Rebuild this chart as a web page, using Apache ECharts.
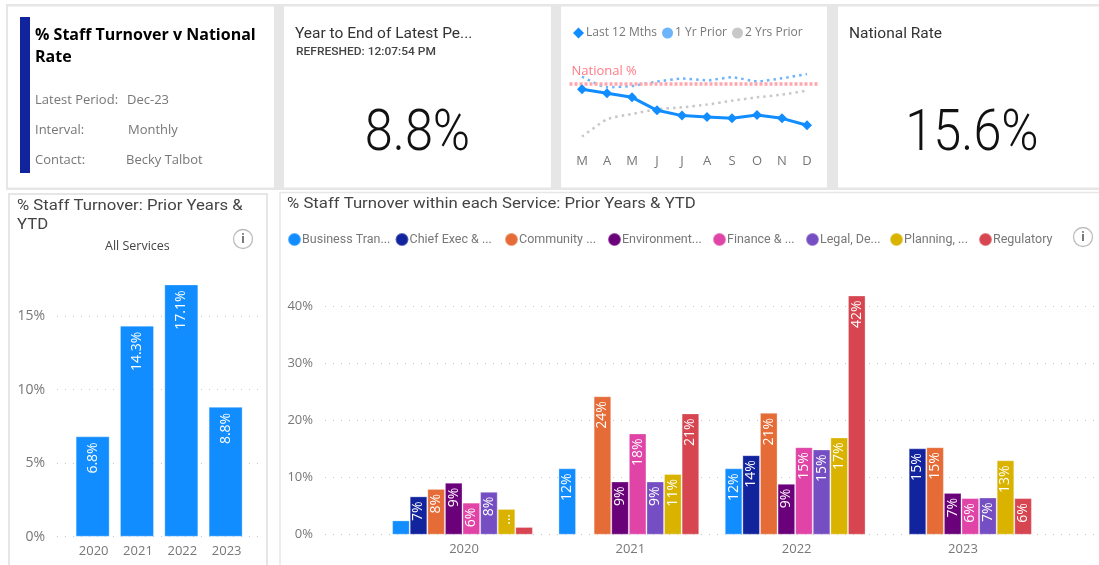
<!DOCTYPE html>
<html>
<head>
<meta charset="utf-8">
<style>html,body{margin:0;padding:0;background:#fff;overflow:hidden}#c{width:1099px;height:565px}</style>
<script src="https://cdn.jsdelivr.net/npm/echarts@6/dist/echarts.min.js"></script>
</head>
<body>
<div id="c"></div>
<script>
const years = ['2020','2021','2022','2023'];
const allServices = [6.8,14.3,17.1,8.8];
const serviceNames = ['Business Tran...','Chief Exec & ...','Community ...','Environment...','Finance & ...','Legal, De...','Planning, ...','Regulatory'];
const businessTran = [2.5,11.6,11.6,null];
const chiefExec = [6.7,null,13.9,15.1];
const community = [8.0,24.2,21.3,15.3];
const environment = [9.1,9.3,8.9,7.3];
const finance = [5.6,17.7,15.3,6.4];
const legal = [7.5,9.3,14.9,6.5];
const planning = [4.5,10.6,17.0,13.0];
const regulatory = [1.35,21.2,41.8,6.4];
const months = ['M','A','M','J','J','A','S','O','N','D'];
const last12 = [14.63,14.0,13.33,11.23,10.37,10.15,9.93,10.47,9.93,8.8];
const yr1Prior = [16.68,14.95,15.17,15.87,16.36,16.09,16.57,15.92,16.41,17.1];
const yr2Prior = [6.97,9.77,10.64,11.39,11.71,12.15,12.79,13.33,13.77,14.41];
const nationalRate = 15.6;
const ytdRate = 8.8;

const serviceValues = [businessTran,chiefExec,community,environment,finance,legal,planning,regulatory];
const serviceColors = ['#118DFF','#12239E','#E66C37','#6B007B','#E044A7','#744EC2','#D9B300','#D64550'];
const legendLeft = [287,394.5,504,607,712,805,889,978];
const UI = '"Open Sans","Noto Sans",sans-serif';
const DIN = 'Roboto,"Open Sans",sans-serif';
const GREY = '#777';
const dots = {type:[1,7],color:'#c8c8c8',width:1};

function rect(x,y,w,h,fill,stroke,lw){return {type:'rect',silent:true,shape:{x,y,width:w,height:h},style:{fill,stroke:stroke||null,lineWidth:lw||0}};}
function txt(text,x,y,font,fill,extra){return Object.assign({type:'text',silent:true,x,y,style:{text,font,fill,textVerticalAlign:'middle',textAlign:'left'}},extra||{});}
function kpi(text,cx){return {type:'text',silent:true,x:cx,y:135,scaleX:0.87,style:{text,font:'300 58px Roboto,sans-serif',fill:'#111',textAlign:'center',textVerticalAlign:'middle'}};}
function info(cx,cy){return [
  {type:'circle',silent:true,shape:{cx,cy,r:9.5},style:{fill:'#fff',stroke:'#bdbdbd',lineWidth:1.3}},
  txt('i',cx,cy,'bold 13px '+UI,'#777',{style:{text:'i',font:'bold 13px '+UI,fill:'#777',textAlign:'center',textVerticalAlign:'middle'}})
];}

const graphic = [
  rect(6,4,1093,186,'#e6e6e6'),
  rect(8,6.5,266,181,'#fff'),
  rect(284,6.5,267,181,'#fff'),
  rect(561,6.5,266,181,'#fff'),
  rect(838,6.5,261,181,'#fff'),
  rect(9,194,258,380,'#fff','#e6e6e6',2),
  rect(280,192.5,830,380,'#fff','#e6e6e6',1.5),
  rect(20,17,10,156,'#12239E'),
  txt('% Staff Turnover v National',35,35,'bold 16px '+UI,'#000'),
  txt('Rate',35,57,'bold 16px '+UI,'#000'),
  txt('Latest Period:',35,100,'13px '+UI,'#777'),
  txt('Dec-23',127,100,'13px '+UI,'#777'),
  txt('Interval:',35,130,'13px '+UI,'#777'),
  txt('Monthly',128,130,'13px '+UI,'#777'),
  txt('Contact:',35,160,'13px '+UI,'#777'),
  txt('Becky Talbot',126,160,'13px '+UI,'#777'),
  txt('Year to End of Latest Pe...',295,34,'15.5px '+DIN,'#333'),
  txt('REFRESHED: 12:07:54 PM',296,52,'500 10.5px '+DIN,'#444',{scaleX:1.14}),
  kpi(ytdRate.toFixed(1)+'%',417.5),
  txt('National Rate',849,34,'15.5px '+DIN,'#333'),
  kpi(nationalRate.toFixed(1)+'%',972),
  txt('% Staff Turnover: Prior Years &',17,206,'15px '+DIN,'#444',{scaleX:1.113}),
  txt('YTD',17,225,'15px '+DIN,'#444',{scaleX:1.113}),
  txt('All Services',105,246,'12.5px '+UI,'#444'),
  txt('% Staff Turnover within each Service: Prior Years & YTD',287,204,'15px '+DIN,'#444',{scaleX:1.115}),
  ...info(243,239),
  ...info(1083,237)
];

const hiddenX = i=>({gridIndex:i,type:'category',data:years,show:false});
const grids = [
  {left:57,width:205,top:272.1,height:264.6},
  {left:70.5,width:177.3,top:271.1,height:265.6},
  {left:325,width:770,top:278.2,height:256.5},
  {left:379.35,width:665.3,top:277.2,height:257.5},
  {left:569.5,width:250,top:56.1,height:92.7}
];
const xAxes = [
  hiddenX(0),
  {gridIndex:1,type:'category',data:years,axisLine:{show:false},axisTick:{show:false},axisLabel:{color:GREY,fontSize:13,fontFamily:UI,margin:8,padding:[0,0,0,2]}},
  hiddenX(2),
  {gridIndex:3,type:'category',data:years,axisLine:{show:false},axisTick:{show:false},axisLabel:{color:GREY,fontSize:13,fontFamily:UI,margin:8,padding:[0,0,0,3]}},
  {gridIndex:4,type:'category',data:months,axisLine:{show:false},axisTick:{show:false},axisLabel:{color:GREY,fontSize:13,fontFamily:UI,margin:6,interval:0}}
];
const pctLabel = (size)=>({color:GREY,fontSize:size,fontFamily:UI,margin:12,padding:[3,0,0,0],formatter:'{value}%',showMaxLabel:false});
const yAxes = [
  {gridIndex:0,type:'value',min:0,max:18,interval:5,axisLabel:pctLabel(14),axisLine:{show:false},axisTick:{show:false},splitLine:{show:true,showMaxLine:false,lineStyle:dots}},
  {gridIndex:1,type:'value',min:0,max:18,interval:5,show:false,splitLine:{show:false}},
  {gridIndex:2,type:'value',min:0,max:45,interval:10,axisLabel:pctLabel(13),axisLine:{show:false},axisTick:{show:false},splitLine:{show:true,showMaxLine:false,lineStyle:dots}},
  {gridIndex:3,type:'value',min:0,max:45,interval:10,show:false,splitLine:{show:false}},
  {gridIndex:4,type:'value',min:5,max:20,show:false,splitLine:{show:false}}
];
const barLabel = {show:true,position:'insideTop',rotate:90,align:'right',verticalAlign:'middle',distance:6,color:'#fff',fontFamily:UI,fontSize:14};
const edge = {borderColor:'rgba(255,255,255,0.3)',borderWidth:1};

const series = [
  {name:'All Services',type:'bar',xAxisIndex:1,yAxisIndex:1,data:allServices,barWidth:34,
   itemStyle:Object.assign({color:'#118DFF'},edge),
   label:Object.assign({},barLabel,{formatter:p=>p.value.toFixed(1)+'%'})},
  ...serviceNames.map((name,i)=>({
    name,type:'bar',xAxisIndex:3,yAxisIndex:3,data:serviceValues[i],barWidth:17.6,barGap:0,
    itemStyle:Object.assign({color:serviceColors[i]},edge),
    label:Object.assign({},barLabel,{distance:5,formatter:p=>{
      const v=p.value; if(v==null||v<3) return ''; if(v<5) return '…'; return Math.round(v)+'%';
    }})
  })),
  {name:'2 Yrs Prior',type:'line',xAxisIndex:4,yAxisIndex:4,data:yr2Prior,symbol:'none',smooth:0.2,z:2,
   itemStyle:{color:'#c8c8c8'},lineStyle:{color:'#c8c8c8',width:2.5,type:[2.5,4]}},
  {name:'1 Yr Prior',type:'line',xAxisIndex:4,yAxisIndex:4,data:yr1Prior,symbol:'none',smooth:0.2,z:2,
   itemStyle:{color:'#6CB4FB'},lineStyle:{color:'#6CB4FB',width:2.5,type:[2.5,4]},
   markLine:{silent:true,symbol:'none',z:3,data:[{yAxis:nationalRate}],
     lineStyle:{color:'#FFA6AC',width:3.5,type:[3,2]},
     label:{show:true,position:'insideStartTop',formatter:'National %',color:'#FF7C86',fontSize:13,fontFamily:UI,distance:[2,5]}}},
  {name:'Last 12 Mths',type:'line',xAxisIndex:4,yAxisIndex:4,data:last12,symbol:'diamond',symbolSize:10,z:4,
   itemStyle:{color:'#118DFF'},lineStyle:{color:'#118DFF',width:3}}
];
const legends = [
  {left:573,top:27,selectedMode:false,itemWidth:11,itemHeight:11,itemGap:5,padding:0,
   textStyle:{color:GREY,fontSize:12,fontFamily:UI,padding:[0,0,0,-3]},
   data:[{name:'Last 12 Mths',icon:'diamond'},{name:'1 Yr Prior',icon:'circle'},{name:'2 Yrs Prior',icon:'circle'}]},
  ...serviceNames.map((name,i)=>({left:legendLeft[i],top:232,selectedMode:false,icon:'circle',itemWidth:13,itemHeight:13,padding:0,
    textStyle:{color:GREY,fontSize:12.5,fontFamily:DIN,padding:[0,0,0,-4]},data:[name]}))
];

const chart = echarts.init(document.getElementById('c'));
chart.setOption({animation:false,backgroundColor:'#fff',graphic:{elements:graphic},grid:grids,xAxis:xAxes,yAxis:yAxes,legend:legends,series});
</script>
</body>
</html>
